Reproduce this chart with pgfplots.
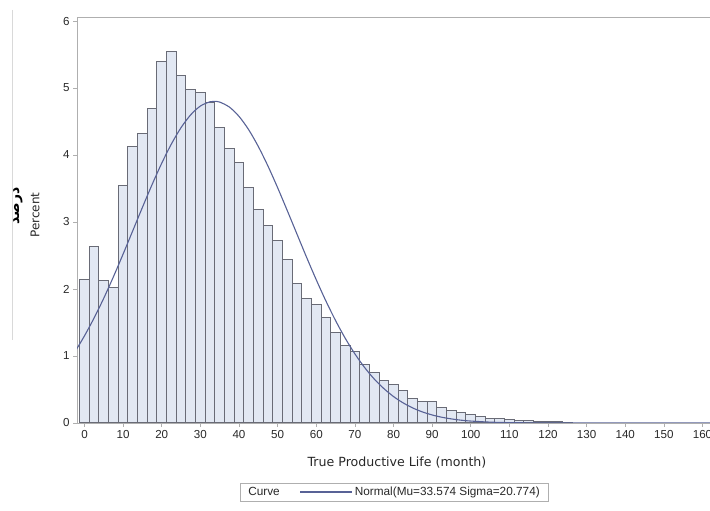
\documentclass[border=0pt]{standalone}
\usepackage{fontspec}
\setmainfont{Liberation Sans}
\newfontfamily\dejavu{DejaVu Sans}
\newfontfamily\arabicfont[Script=Arabic]{DejaVu Sans}
\usepackage{pgfplots}
\pgfplotsset{compat=1.18}
\TeXXeTstate=1
\definecolor{barfill}{RGB}{226,232,243}
\definecolor{baredge}{RGB}{105,107,118}
\definecolor{curvecol}{RGB}{88,98,150}
\definecolor{framecol}{RGB}{175,175,175}
\definecolor{txt}{RGB}{40,40,40}
\begin{document}
\begin{tikzpicture}
\begin{axis}[
  at={(77pt,88pt)}, anchor=south west,
  scale only axis, width=637.1pt, height=406pt,
  xmin=-1.94, xmax=163, ymin=0, ymax=6.06,
  xtick={0,10,...,160}, ytick={0,1,...,6},
  xtick pos=lower, ytick pos=left,
  tick align=outside, major tick length=4pt,
  tick style={color=framecol, line width=0.6pt},
  axis line style={color=framecol, line width=0.8pt},
  ticklabel style={font=\fontsize{11.6}{13}\selectfont, color=txt},
  /pgf/number format/assume math mode=true,
  legend columns=2,
  legend style={at={(0.4976,-0.170)}, anchor=center, draw=framecol,
    font=\fontsize{11.8}{13}\selectfont, text=txt, inner xsep=6pt, inner ysep=2pt,
    /tikz/every even column/.append style={column sep=18pt}},
  legend image code/.code={\draw[#1] (0pt,0pt) -- (52pt,0pt);},
]
\addplot[ybar, bar width=2.5, fill=barfill, draw=baredge, line width=1pt, forget plot] coordinates {
(0,2.14) (2.5,2.64) (5,2.12) (7.5,2.02) (10,3.55) (12.5,4.12) (15,4.32) (17.5,4.70)
(20,5.40) (22.5,5.55) (25,5.18) (27.5,4.98) (30,4.93) (32.5,4.78) (35,4.41) (37.5,4.10)
(40,3.89) (42.5,3.51) (45,3.19) (47.5,2.95) (50,2.72) (52.5,2.44) (55,2.08) (57.5,1.86)
(60,1.77) (62.5,1.57) (65,1.35) (67.5,1.16) (70,1.06) (72.5,0.87) (75,0.75) (77.5,0.64)
(80,0.58) (82.5,0.48) (85,0.36) (87.5,0.32) (90,0.32) (92.5,0.23) (95,0.185) (97.5,0.16)
(100,0.13) (102.5,0.095) (105,0.07) (107.5,0.065) (110,0.05) (112.5,0.04) (115,0.03)
(117.5,0.025) (120,0.02) (122.5,0.015) (125,0.01)
};
\addlegendimage{legend image code/.code={}}
\addlegendentry{Curve}
\addplot[curvecol, line width=1.1pt, smooth] coordinates {
(-2,1.108) (0,1.301) (2.5,1.569) (5,1.864) (7.5,2.184) (10,2.522) (12.5,2.870) (15,3.219)
(17.5,3.559) (20,3.878) (22.5,4.165) (25,4.409) (27.5,4.600) (30,4.731) (32.5,4.795)
(33.574,4.801) (35,4.790) (37.5,4.716) (40,4.577) (42.5,4.378) (45,4.127) (47.5,3.835)
(50,3.512) (52.5,3.170) (55,2.821) (57.5,2.473) (60,2.138) (62.5,1.821) (65,1.529)
(67.5,1.265) (70,1.032) (72.5,0.830) (75,0.657) (77.5,0.514) (80,0.395) (82.5,0.300)
(85,0.224) (87.5,0.165) (90,0.120) (92.5,0.086) (95,0.061) (97.5,0.042) (100,0.029)
(105,0.013) (110,0.0055) (115,0.0022) (120,0.0008) (130,0.0001) (140,0) (163,0)
};
\addlegendentry{Normal(Mu=33.574 Sigma=20.774)}
\end{axis}
\node[rotate=90, font=\dejavu\fontsize{12}{14}\selectfont, text=txt] at (35pt,296pt) {Percent};
\node[rotate=90, text=black] at (18pt,305pt) {\arabicfont\bfseries\fontsize{14}{16}\selectfont\beginR درصد\endR};
\node[font=\dejavu\fontsize{12.6}{14}\selectfont, text=txt] at (397pt,48.3pt) {True Productive Life (month)};
\draw[black!15, line width=0.8pt] (12pt,501pt) -- (12pt,171pt);
\pgfresetboundingbox
\path[use as bounding box] (0pt,0pt) rectangle (710pt,511pt);
\end{tikzpicture}
\end{document}
